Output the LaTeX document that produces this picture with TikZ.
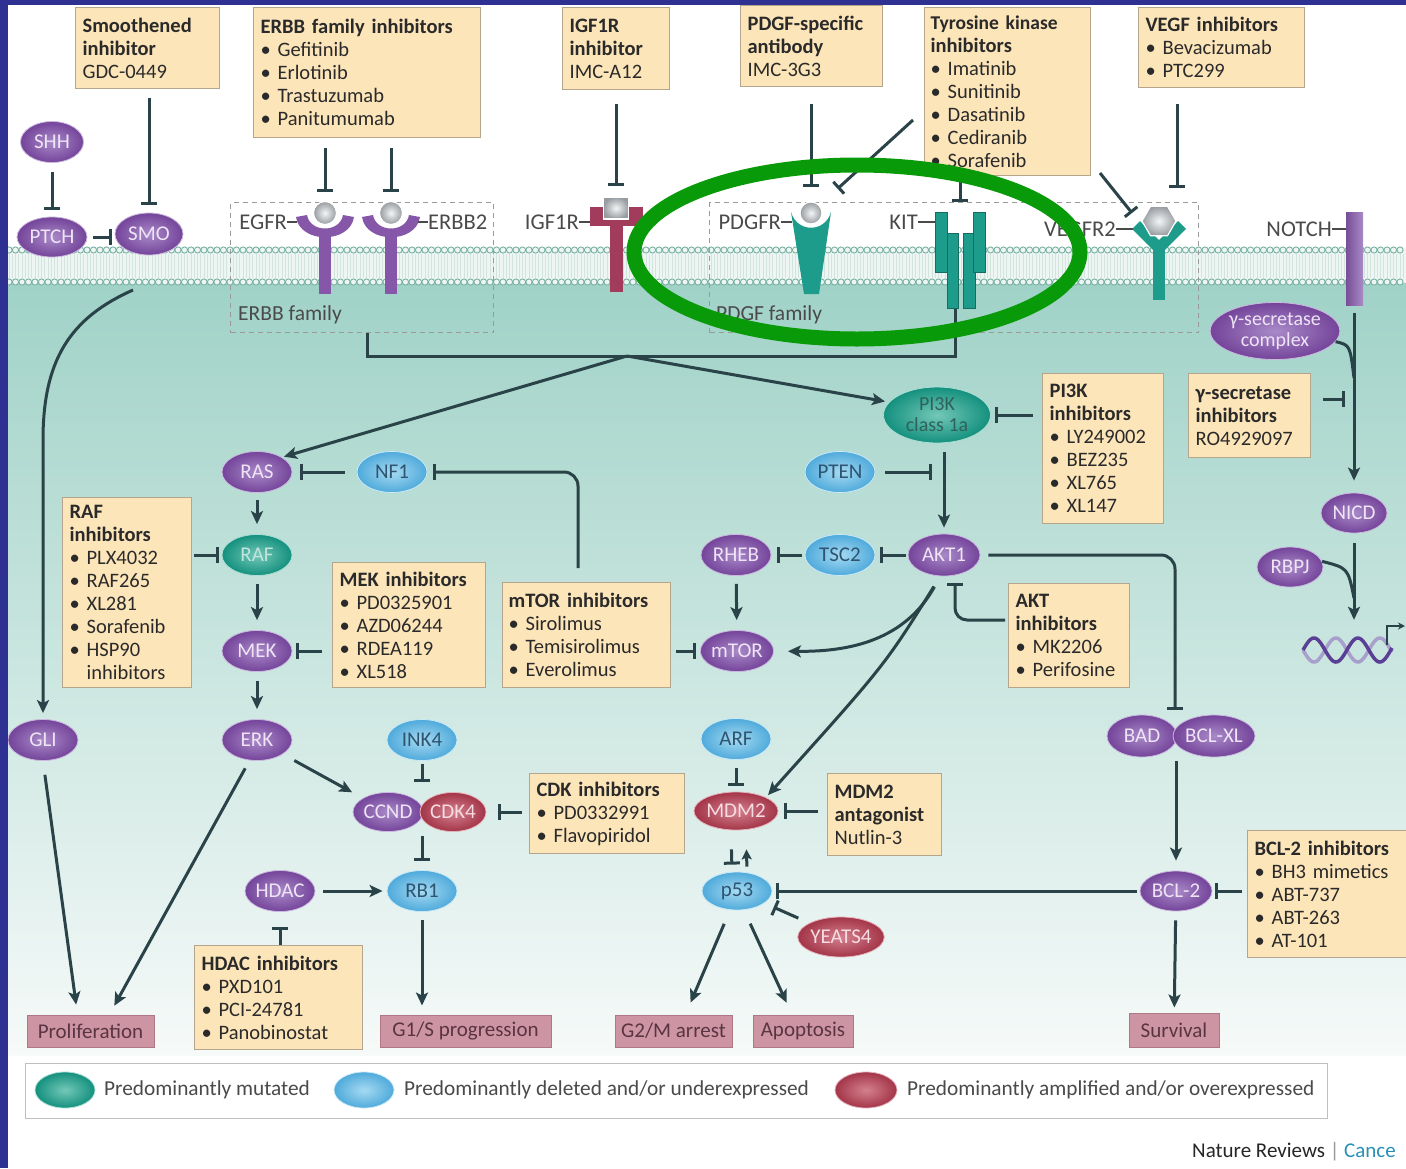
\documentclass[tikz,border=0pt]{standalone}
\usepackage{fontspec}
\setmainfont{Carlito}
\usetikzlibrary{shapes.geometric,arrows.meta,calc}
\definecolor{frameblue}{HTML}{2E3092}
\definecolor{lnk}{HTML}{2A4348}
\definecolor{boxfill}{HTML}{FDE5BA}
\definecolor{boxedge}{HTML}{B5A58C}
\definecolor{drugtext}{HTML}{2A2A2A}
\definecolor{purp}{HTML}{74449A}
\definecolor{purpin}{HTML}{A98AC8}
\definecolor{purptext}{HTML}{EEE4F6}
\definecolor{tealn}{HTML}{14907E}
\definecolor{tealin}{HTML}{74C8B8}
\definecolor{tealtext}{HTML}{C2E4DC}
\definecolor{bluen}{HTML}{4FAADB}
\definecolor{bluein}{HTML}{A6DAF2}
\definecolor{bluetext}{HTML}{2E5470}
\definecolor{redn}{HTML}{A33548}
\definecolor{redin}{HTML}{D4818F}
\definecolor{redtext}{HTML}{F7DCE2}
\definecolor{outfill}{HTML}{CD95A4}
\definecolor{outedge}{HTML}{B07786}
\definecolor{outtext}{HTML}{5A3442}
\definecolor{cyto}{HTML}{A0D2C7}
\definecolor{cytolow}{HTML}{F6FAF9}
\definecolor{membline}{HTML}{78B0A2}
\definecolor{membfill}{HTML}{EEF6F3}
\definecolor{membstripe}{HTML}{D3E4DF}
\definecolor{ringgreen}{HTML}{089A08}
\definecolor{labgray}{HTML}{4A4A4A}
\definecolor{recpurp}{HTML}{8657A8}
\definecolor{recteal}{HTML}{1E9C8B}
\definecolor{recmaroon}{HTML}{A23C5C}
\definecolor{famgray}{HTML}{9A9A9A}
\definecolor{ligfill}{HTML}{B2B8BD}
\definecolor{cancerblue}{HTML}{2A90B8}
\definecolor{dnaa}{HTML}{5A3F95}
\definecolor{dnab}{HTML}{A8A0CC}
\definecolor{pitext}{HTML}{2F625A}
\newcommand{\itm}[1]{\textbullet~#1}
\tikzset{
  gene/.style={ellipse, minimum width=70pt, minimum height=41pt, inner sep=0pt, line width=0.8pt,
    font=\fontsize{21}{22}\selectfont},
  pnode/.style={gene, draw=purpin!60!white, shade, inner color=purpin, outer color=purp, text=purptext},
  tnode/.style={gene, draw=tealin!60!white, shade, inner color=tealin, outer color=tealn, text=tealtext},
  bnode/.style={gene, draw=bluein!60!white, shade, inner color=bluein, outer color=bluen, text=bluetext},
  rnode/.style={gene, draw=redin!60!white, shade, inner color=redin, outer color=redn, text=redtext},
  drug/.style={draw=boxedge, line width=1.2pt, fill=boxfill, anchor=north west, align=left,
    inner xsep=7pt, inner ysep=3pt, text=drugtext, font=\fontsize{20.5}{23}\selectfont,
    execute at begin node={\hyphenpenalty=10000\exhyphenpenalty=10000}},
  outcome/.style={draw=outedge, line width=1pt, fill=outfill, text=outtext, minimum height=32pt,
    inner sep=0pt, font=\fontsize{21}{22}\selectfont},
  reclabel/.style={text=labgray, inner sep=0pt, font=\fontsize{22.5}{24}\selectfont},
  famlabel/.style={text=labgray, inner sep=0pt, anchor=west, font=\fontsize{21.5}{23}\selectfont},
  famdash/.style={draw=famgray, line width=1pt, dash pattern=on 5pt off 4pt, anchor=north west, inner sep=0pt},
  ligand/.style={circle, minimum size=23pt, inner sep=0pt, draw=white, line width=1.2pt, shade,
    inner color=white!85!ligfill, outer color=ligfill!85!black},
  ligsq/.style={rectangle, minimum width=25pt, minimum height=22pt, inner sep=0pt, draw=white, line width=1.5pt, shade,
    inner color=white!85!ligfill, outer color=ligfill!85!black},
  hexlig/.style={regular polygon, regular polygon sides=6, minimum size=34pt, inner sep=0pt, draw=white, line width=1.2pt, shade,
    inner color=white!85!ligfill, outer color=ligfill!85!black},
  tick/.style={draw=labgray, line width=1.2pt},
  link/.style={draw=lnk, line width=3pt},
  act/.style={link, -{Stealth[length=13pt,width=12pt,inset=3pt]}},
  actsm/.style={link, -{Stealth[length=10pt,width=10pt,inset=2pt]}},
  inh/.style={link, -{Bar[width=16pt]}},
  legtext/.style={text=labgray, anchor=west, inner sep=0pt, font=\fontsize{21.3}{23}\selectfont},
}
\begin{document}
\begin{tikzpicture}[x=1pt,y=-1pt]
\useasboundingbox (0,0) rectangle (1406,1168);
\fill[white] (0,0) rectangle (1406,1168);
% cytoplasm
\shade[top color=cyto, bottom color=cytolow] (8,282) rectangle (1406,1055);
% membrane
\fill[membfill] (8,248) rectangle (1406,283);
\foreach \xx in {9,15.5,...,1406} {
  \draw[membstripe, line width=0.9pt] (\xx,254) -- (\xx,278);
  \draw[membstripe, line width=0.9pt] (\xx+3.2,254) -- (\xx+3.2,278);
  \draw[membline, line width=0.9pt, fill=membfill] (\xx,250) circle (3.1);
  \draw[membline, line width=0.9pt, fill=membfill] (\xx,282) circle (3.1);
}
% receptor families
\node[famdash, minimum width=263pt, minimum height=130pt] (erbbfam) at (230,202) {};
\node[famdash, minimum width=489pt, minimum height=130pt] (pdgffam) at (709,202) {};
\node[famlabel] (erbbfamlab) at (238,315) {ERBB family};
\node[famlabel] (pdgffamlab) at (716,315) {PDGF family};

% EGFR
\fill[recpurp] (296,217) .. controls (300,244) and (350,244) .. (354,217) -- (343,215) .. controls (340,233) and (310,233) .. (307,215) -- cycle;
\fill[recpurp] (319,236) rectangle (331,294);
\node[ligand] (egfrlig) at (325,213) {};
% ERBB2
\fill[recpurp] (362,217) .. controls (366,244) and (416,244) .. (420,217) -- (409,215) .. controls (406,233) and (376,233) .. (373,215) -- cycle;
\fill[recpurp] (385,236) rectangle (397,294);
\node[ligand] (erbb2lig) at (391,213) {};
% IGF1R
\fill[recmaroon] (590,207) rectangle (643,226);
\fill[recmaroon] (610,224) rectangle (623,292);
\node[ligsq] (igflig) at (616,208) {};
% PDGFR
\fill[recteal] (791,212) .. controls (797,233) and (825,233) .. (831,212) -- (819,294) -- (804,294) -- cycle;
\node[ligand, minimum size=22pt] (pdgfrlig) at (811,213) {};
% KIT
\fill[recteal, draw=recteal!70!black, line width=0.6pt] (947,233) rectangle (958,308);
\fill[recteal, draw=recteal!70!black, line width=0.6pt] (963,233) rectangle (975,308);
\fill[recteal, draw=recteal!70!black, line width=0.6pt] (935,212) rectangle (947,272);
\fill[recteal, draw=recteal!70!black, line width=0.6pt] (973,212) rectangle (985,272);
% VEGFR2
\draw[recteal, line width=11pt] (1136,225) -- (1159,248) -- (1182,225);
\fill[recteal] (1153,244) rectangle (1165,300);
\node[hexlig] (vegflig) at (1159,221) {};
% NOTCH
\node[inner sep=0pt, minimum width=17pt, minimum height=93pt, shade, left color=recpurp!90!black, right color=purpin, anchor=north west] (notch) at (1346,212) {};

% receptor labels
\node[reclabel, anchor=east] (egfrlab) at (287,222) {EGFR};
\draw[tick] (egfrlab.east) -- ++(10,0);
\node[reclabel, anchor=west] (erbb2lab) at (428,222) {ERBB2};
\draw[tick] (erbb2lab.west) -- ++(-10,0);
\node[reclabel, anchor=east] (igflab) at (579,222) {IGF1R};
\draw[tick] (igflab.east) -- ++(11,0);
\node[reclabel, anchor=east] (pdgfrlab) at (781,222) {PDGFR};
\draw[tick] (pdgfrlab.east) -- ++(11,0);
\node[reclabel, anchor=east] (kitlab) at (918,222) {KIT};
\draw[tick] (kitlab.east) -- ++(17,0);
\node[reclabel, anchor=east] (vegfrlab) at (1116,229) {VEGFR2};
\draw[tick] (vegfrlab.east) -- ++(17,0);
\node[reclabel, anchor=east] (notchlab) at (1332,229) {NOTCH};
\draw[tick] (notchlab.east) -- ++(14,0);

% drug boxes
\node[drug, text width=130pt, minimum height=81pt] (smoinh) at (75,7) {\textbf{Smoothened}\\\textbf{inhibitor}\\GDC-0449};
\node[drug, text width=213pt, minimum height=130pt] (erbbinh) at (253,7) {\textbf{ERBB~family~inhibitors}\\\itm{Gefitinib}\\\itm{Erlotinib}\\\itm{Trastuzumab}\\\itm{Panitumumab}};
\node[drug, text width=93pt, minimum height=82pt] (igfinh) at (562,7) {\textbf{IGF1R}\\\textbf{inhibitor}\\IMC-A12};
\node[drug, text width=128pt, minimum height=81pt] (pdgfinh) at (740,5) {\textbf{PDGF-specific}\\\textbf{antibody}\\IMC-3G3};
\node[drug, text width=154pt, inner xsep=6pt, minimum height=168pt] (tki) at (924,7) {{\fontsize{19.5}{23}\selectfont\textbf{Tyrosine~kinase}}\\\textbf{inhibitors}\\\itm{Imatinib}\\\itm{Sunitinib}\\\itm{Dasatinib}\\\itm{Cediranib}\\\itm{Sorafenib}};
\node[drug, text width=152pt, minimum height=80pt] (vegfinh) at (1138,7) {\textbf{VEGF~inhibitors}\\\itm{Bevacizumab}\\\itm{PTC299}};
\node[drug, text width=115pt, minimum height=190pt] (rafinh) at (62,497) {\textbf{RAF}\\\textbf{inhibitors}\\\itm{PLX4032}\\\itm{RAF265}\\\itm{XL281}\\\itm{Sorafenib}\\\itm{HSP90}\\\phantom{\textbullet~}inhibitors};
\node[drug, text width=139pt, minimum height=125pt] (mekinh) at (332,562) {\textbf{MEK~inhibitors}\\\itm{PD0325901}\\\itm{AZD06244}\\\itm{RDEA119}\\\itm{XL518}};
\node[drug, text width=156pt, inner xsep=6pt, minimum height=105pt] (mtorinh) at (502,582) {\textbf{mTOR~inhibitors}\\\itm{Sirolimus}\\\itm{Temisirolimus}\\\itm{Everolimus}};
\node[drug, text width=107pt, minimum height=150pt] (pi3kinh) at (1042,373) {\textbf{PI3K}\\\textbf{inhibitors}\\\itm{LY249002}\\\itm{BEZ235}\\\itm{XL765}\\\itm{XL147}};
\node[drug, text width=108pt, minimum height=84pt] (gsecinh) at (1188,373) {\textbf{γ-secretase}\\\textbf{inhibitors}\\RO4929097};
\node[drug, text width=107pt, minimum height=104pt] (aktinh) at (1008,583) {\textbf{AKT}\\\textbf{inhibitors}\\\itm{MK2206}\\\itm{Perifosine}};
\node[drug, text width=141pt, minimum height=80pt] (cdkinh) at (529,773) {\textbf{CDK~inhibitors}\\\itm{PD0332991}\\\itm{Flavopiridol}};
\node[drug, text width=100pt, minimum height=82pt] (mdm2ant) at (827,773) {\textbf{MDM2}\\\textbf{antagonist}\\Nutlin-3};
\node[drug, text width=154pt, minimum height=104pt] (hdacinh) at (194,945) {\textbf{HDAC~inhibitors}\\\itm{PXD101}\\\itm{PCI-24781}\\\itm{Panobinostat}};
\node[drug, text width=145pt, minimum height=127pt] (bcl2inh) at (1247,830) {\textbf{BCL-2~inhibitors}\\\itm{BH3~mimetics}\\\itm{ABT-737}\\\itm{ABT-263}\\\itm{AT-101}};

% gene nodes
\node[pnode, minimum width=63pt, minimum height=41pt] (shh) at (52,142) {SHH};
\node[pnode, minimum height=40pt] (ptch) at (52,237) {PTCH};
\node[pnode, minimum width=68pt, minimum height=42pt] (smo) at (149,234) {SMO};
\node[pnode] (ras) at (257,472) {RAS};
\node[bnode] (nf1) at (392,472) {NF1};
\node[tnode] (raf) at (257,555) {RAF};
\node[pnode] (mek) at (257,651) {MEK};
\node[pnode] (erk) at (257,740) {ERK};
\node[pnode] (gli) at (43,740) {GLI};
\node[bnode] (ink4) at (422,740) {INK4};
\node[pnode, minimum height=39pt] (ccnd) at (388,812) {CCND};
\node[rnode, minimum width=66pt, minimum height=39pt] (cdk4) at (453,812) {CDK4};
\node[pnode] (hdac) at (280,891) {HDAC};
\node[bnode] (rb1) at (422,891) {RB1};
\node[tnode, minimum width=107pt, minimum height=56pt, text=pitext, align=center, font=\fontsize{20}{21}\selectfont] (pi3k) at (937,415) {PI3K\\class 1a};
\node[bnode] (pten) at (840,472) {PTEN};
\node[pnode, minimum width=72pt, minimum height=42pt] (akt1) at (944,555) {AKT1};
\node[bnode] (tsc2) at (840,555) {TSC2};
\node[pnode] (rheb) at (736,555) {RHEB};
\node[pnode] (mtor) at (737,651) {mTOR};
\node[bnode] (arf) at (736,739) {ARF};
\node[rnode, minimum height=38pt] (mdm2) at (736,811) {MDM2};
\node[bnode, minimum height=38pt] (p53) at (737,891) {p53};
\node[rnode, minimum width=82pt, minimum height=40pt] (yeats4) at (841,937) {YEATS4};
\node[pnode, minimum height=42pt] (bad) at (1142,736) {BAD};
\node[pnode, minimum width=82pt, minimum height=42pt] (bclxl) at (1214,736) {BCL-XL};
\node[pnode, minimum width=72pt, minimum height=40pt] (bcl2) at (1176,891) {BCL-2};
\node[pnode, minimum width=115pt, minimum height=57pt, align=center, font=\fontsize{20}{21}\selectfont] (gsec) at (1275,331) {γ-secretase\\complex};
\node[pnode, minimum width=66pt, minimum height=40pt] (nicd) at (1354,513) {NICD};
\node[pnode, minimum width=66pt, minimum height=40pt] (rbpj) at (1290,567) {RBPJ};

% DNA
\node[minimum width=97pt, minimum height=30pt, inner sep=0pt] (dna) at (1352,650) {};
\draw[dnab, line width=3.5pt, domain=1303:1392, samples=80, smooth, variable=\t] plot (\t, {650+12*sin((\t-1303)*8.2)});
\draw[dnaa, line width=3.5pt, domain=1303:1392, samples=80, smooth, variable=\t] plot (\t, {650-12*sin((\t-1303)*8.2)});
\coordinate (promstart) at (1387,645);
\coordinate (promend) at (1405,626);
\draw[lnk, line width=2pt, -{Stealth[length=7pt,width=7pt]}] (promstart) |- (promend);

% outcomes
\node[outcome, minimum width=127pt] (prolif) at (90.5,1031) {Proliferation};
\node[outcome, minimum width=171pt] (g1s) at (465.5,1031) {G1/S progression};
\node[outcome, minimum width=117pt] (g2m) at (673.5,1031) {G2/M arrest};
\node[outcome, minimum width=100pt] (apop) at (803,1031) {Apoptosis};
\node[outcome, minimum width=90pt, minimum height=34pt] (surv) at (1174,1030) {Survival};

% ---------- connectors ----------
\draw[inh, shorten <=9pt, shorten >=8pt] (smo |- smoinh.south) -- (smo.north);
\draw[inh, shorten <=10pt, shorten >=9pt] (egfrlig |- erbbinh.south) -- (egfrlig.north);
\draw[inh, shorten <=10pt, shorten >=9pt] (erbb2lig |- erbbinh.south) -- (erbb2lig.north);
\draw[inh, shorten <=14pt, shorten >=10pt] (igflig |- igfinh.south) -- (igflig.north);
\draw[inh, shorten <=17pt, shorten >=14pt] (pdgfrlig |- pdgfinh.south) -- (pdgfrlig.north);
\coordinate (tkidiag) at (913,120);
\draw[inh, shorten >=36pt] (tkidiag) -- (pdgfrlig.center);
\coordinate (kittop) at (960,212);
\draw[inh, shorten >=10pt] (kittop |- tki.south) -- (kittop);
\coordinate (tkivegf) at (1100,173);
\coordinate (vegfhit) at (1132,213);
\draw[inh] (tkivegf) -- (vegfhit);
\coordinate (vegftop) at (1177,188);
\draw[inh, shorten <=16pt] (vegftop |- vegfinh.south) -- (vegftop);
\draw[inh, shorten <=9pt, shorten >=7pt] (shh) -- (ptch);
\draw[inh, shorten <=6pt, shorten >=3pt] (ptch.east) -- (ptch.east -| smo.west);

\coordinate (erbbout) at (367,333);
\coordinate (kitout) at (955,309);
\coordinate (merge) at (627,356);
\draw[link] (erbbout) |- (merge) -| (kitout);
\draw[act, shorten >=2pt] (merge) -- (ras.north east);
\draw[act, shorten >=4pt] (merge) -- (pi3k.165);

\coordinate (hhout) at (133,290);
\draw[act, shorten >=6pt] (hhout) .. controls (70,318) and (43,360) .. (43,440) -- (gli.north);

\draw[act, shorten <=7pt, shorten >=10pt] (ras) -- (raf);
\draw[act, shorten <=8pt, shorten >=10pt] (raf) -- (mek);
\draw[act, shorten <=9pt, shorten >=10pt] (mek) -- (erk);
\draw[inh, shorten <=12pt, shorten >=8pt] (nf1) -- (ras);
\coordinate (mtorup) at (578,568);
\draw[inh, rounded corners=14pt, shorten >=6pt] (mtorup) |- (nf1.east);
\draw[inh, shorten <=2pt, shorten >=3pt] (rafinh.east |- raf) -- (raf.west);
\draw[inh, shorten <=10pt, shorten >=4pt] (mekinh.west |- mek) -- (mek.east);
\draw[inh, shorten <=5pt, shorten >=4pt] (mtorinh.east |- mtor) -- (mtor.west);
\draw[inh, shorten <=9pt, shorten >=4pt] (pi3kinh.west |- pi3k) -- (pi3k.east);
\draw[act, shorten <=9pt, shorten >=6pt] (akt1 |- pi3k.south) -- (akt1.north);
\coordinate (ptenhit) at (932,472);
\draw[inh, shorten <=10pt] (pten) -- (ptenhit);
\draw[inh, shorten <=2pt, shorten >=5pt] (akt1) -- (tsc2);
\draw[inh, shorten <=3pt, shorten >=6pt] (tsc2) -- (rheb);
\draw[act, shorten <=8pt, shorten >=10pt] (rheb) -- (mtor);
\draw[act, shorten <=12pt, shorten >=14pt] (akt1.260) .. controls (905,640) and (850,652) .. (mtor.east);
\draw[act, shorten <=12pt, shorten >=3pt] (akt1.260) .. controls (885,665) .. (mdm2.north east);
\coordinate (akthit) at (955,583);
\draw[inh, rounded corners=12pt] ($(aktinh.north west)+(-3,37)$) -| (akthit);
\coordinate (badhit) at (1175,710);
\draw[inh, rounded corners=14pt, shorten <=8pt] (akt1.east) -| (badhit);
\draw[act, shorten <=4pt, shorten >=10pt] (bcl2 |- bad.south) -- (bcl2.north);
\draw[inh, shorten <=5pt, shorten >=3pt] (bcl2inh.west |- bcl2) -- (bcl2.east);
\draw[inh, shorten <=3pt, shorten >=4pt] (bcl2.west) -- (p53.east);
\draw[act, shorten <=9pt, shorten >=5pt] (bcl2) -- (surv);
\draw[inh, shorten <=8pt, shorten >=6pt] (arf) -- (mdm2);
\draw[inh, shorten <=19pt, shorten >=7pt] ([xshift=-5pt]mdm2.south) -- ([xshift=-5pt]p53.north);
\draw[actsm, shorten <=5pt, shorten >=19pt] ([xshift=10pt]p53.north) -- ([xshift=10pt]mdm2.south);
\draw[inh, shorten <=9pt, shorten >=6pt] (mdm2ant.west |- mdm2) -- (mdm2.east);
\draw[inh, shorten <=12pt, shorten >=10pt] (yeats4) -- (p53);
\draw[act, shorten <=15pt, shorten >=13pt] (p53.250) -- ([xshift=12pt]g2m.north);
\draw[act, shorten <=15pt, shorten >=13pt] (p53.290) -- ([xshift=-11pt]apop.north);
\draw[inh, shorten <=7pt, shorten >=12pt] (cdkinh.west |- cdk4) -- (cdk4.east);
\draw[inh, shorten <=3pt, shorten >=10pt] (ink4) -- (ink4 |- ccnd.north);
\draw[inh, shorten <=4pt, shorten >=9pt] (rb1 |- ccnd.south) -- (rb1.north);
\draw[act, shorten <=13pt, shorten >=12pt] (erk) -- (ccnd);
\draw[act, shorten <=9pt, shorten >=10pt] (erk.250) -- ([xshift=19pt]prolif.north);
\draw[act, shorten <=14pt, shorten >=10pt] (gli.south) -- ([xshift=-13pt]prolif.north);
\draw[act, shorten <=8pt, shorten >=4pt] (hdac) -- (rb1);
\draw[inh, shorten >=15pt] (hdac |- hdacinh.north) -- (hdac.south);
\draw[act, shorten <=8pt, shorten >=9pt] (rb1) -- (rb1 |- g1s.north);

\draw[act, shorten <=8pt, shorten >=12pt] (nicd |- notch.south) -- (nicd.north);
\coordinate (gsecjoin) at (1354,378);
\draw[link] (gsec.350) .. controls (1350,345) .. (gsecjoin);
\coordinate (gsechit) at (1345,399);
\draw[inh, shorten <=12pt] (gsecinh.east |- gsechit) -- (gsechit);
\draw[act, shorten <=10pt, shorten >=15pt] (nicd) -- (nicd |- dna.north);
\coordinate (rbpjjoin) at (1354,598);
\draw[link] (rbpj.10) .. controls (1348,568) .. (rbpjjoin);

% legend
\node[draw=black!25, line width=1.2pt, fill=white, minimum width=1302pt, minimum height=55pt, anchor=north west, inner sep=0pt] (legend) at (25,1063) {};
\node[tnode, minimum width=60pt, minimum height=36pt] (legmut) at (65,1090) {};
\node[legtext] (legmuttxt) at (104,1090) {Predominantly mutated};
\node[bnode, minimum width=60pt, minimum height=36pt] (legdel) at (364,1090) {};
\node[legtext] (legdeltxt) at (404,1090) {Predominantly deleted and/or underexpressed};
\node[rnode, minimum width=62pt, minimum height=36pt] (legamp) at (866,1090) {};
\node[legtext] (legamptxt) at (907,1090) {Predominantly amplified and/or overexpressed};
\node[anchor=west, inner sep=0pt, font=\fontsize{21}{22}\selectfont] (credit) at (1192,1152) {\textcolor{black!85}{Nature Reviews} \textcolor{black!40}{|} \textcolor{cancerblue}{Cance}};

% highlight ring
\draw[ringgreen, line width=15pt] (857,252) ellipse [x radius=223, y radius=87];
% frame
\fill[frameblue] (0,0) rectangle (8,1168);
\fill[frameblue] (0,0) rectangle (1406,5);
\end{tikzpicture}
\end{document}
